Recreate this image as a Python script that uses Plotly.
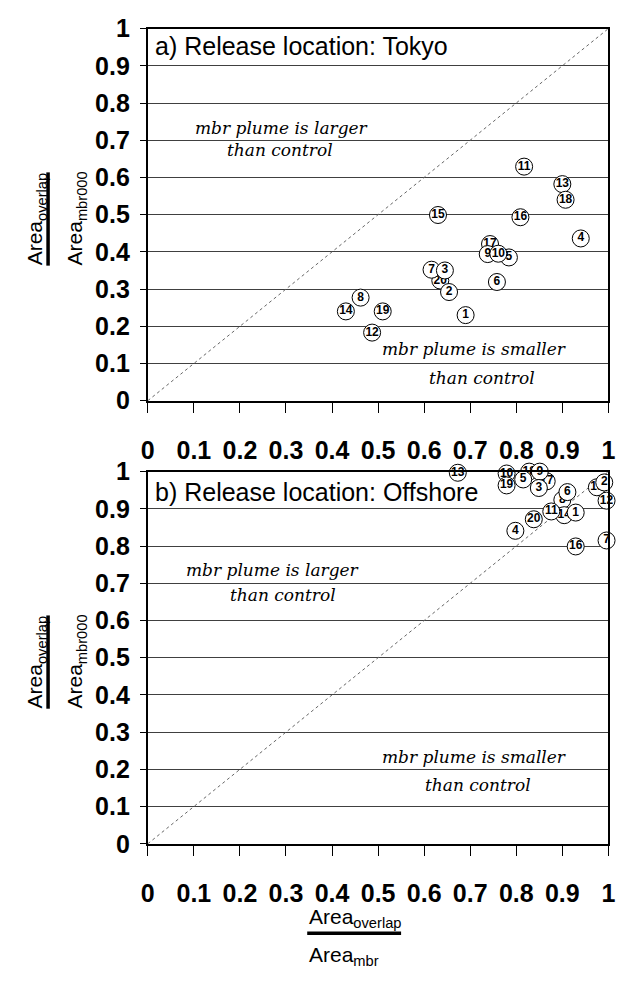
import plotly.graph_objects as go

# ---- data -------------------------------------------------------------
# Release location: Tokyo (panel a) -- listed in drawing order
tokyo_ids = [1, 4, 6, 8, 11, 12, 13, 14, 15, 16, 18, 19, 17, 9, 5, 10, 20, 7, 3, 2]
tokyo_x = [0.690, 0.940, 0.758, 0.462, 0.817, 0.487, 0.900, 0.430, 0.630, 0.809,
           0.907, 0.510, 0.743, 0.738, 0.784, 0.761, 0.635, 0.616, 0.645, 0.654]
tokyo_y = [0.230, 0.436, 0.319, 0.277, 0.629, 0.183, 0.582, 0.240, 0.499, 0.493,
           0.540, 0.240, 0.421, 0.394, 0.385, 0.395, 0.323, 0.352, 0.350, 0.292]

# Release location: Offshore (panel b) -- listed in drawing order
offshore_ids = [18, 17, 15, 8, 14, 10, 19, 5, 9, 3, 6, 11, 1, 2, 12, 20, 4, 16, 7, 13]
offshore_x = [0.828, 0.866, 0.975, 0.900, 0.904, 0.779, 0.779, 0.815, 0.851, 0.849,
              0.911, 0.876, 0.929, 0.991, 0.996, 0.838, 0.798, 0.929, 0.996, 0.673]
offshore_y = [1.000, 0.974, 0.958, 0.924, 0.883, 0.995, 0.963, 0.979, 1.000, 0.956,
              0.945, 0.893, 0.890, 0.971, 0.922, 0.872, 0.841, 0.799, 0.815, 0.997]

diag = [0, 1]
tick_vals = [0, 0.1, 0.2, 0.3, 0.4, 0.5, 0.6, 0.7, 0.8, 0.9, 1]
tick_text = ["0", "0.1", "0.2", "0.3", "0.4", "0.5", "0.6", "0.7", "0.8", "0.9", "1"]

# ---- figure geometry ----------------------------------------------------
W, H = 633, 987
SANS = "Liberation Sans, Arial, sans-serif"
SERIF = "DejaVu Serif, serif"


def px(x):
    return x / W


def py(y):
    return 1 - y / H


fig = go.Figure()

panels = [
    ("x", "y", tokyo_ids, tokyo_x, tokyo_y),
    ("x2", "y2", offshore_ids, offshore_x, offshore_y),
]
for xa, ya, ids, xs, ys in panels:
    fig.add_trace(go.Scatter(
        x=diag, y=diag, xaxis=xa, yaxis=ya, mode="lines",
        line=dict(color="#666666", width=1, dash="dot"),
        hoverinfo="skip", showlegend=False,
    ))
    # one trace per run so that a later circle hides the label underneath it
    for i, xv, yv in zip(ids, xs, ys):
        fig.add_trace(go.Scatter(
            x=[xv], y=[yv], xaxis=xa, yaxis=ya, mode="markers+text",
            text=[str(i)], textposition="middle center",
            textfont=dict(family=SANS, size=12, color="black", weight="bold"),
            marker=dict(symbol="circle", size=17, color="white",
                        line=dict(color="black", width=1)),
            cliponaxis=False, showlegend=False, name=f"run {i}",
        ))

xaxis_style = dict(
    range=[0, 1], tickvals=tick_vals, ticktext=tick_text,
    ticks="outside", ticklen=10, tickwidth=1, tickcolor="black",
    tickfont=dict(family=SANS, size=25, color="black", weight="bold"),
    ticklabelstandoff=16,
    showgrid=False, zeroline=False,
    showline=True, linecolor="black", linewidth=2, mirror=True,
)
yaxis_style = dict(
    range=[0, 1], tickvals=tick_vals, ticktext=tick_text,
    ticks="outside", ticklen=6, tickwidth=1, tickcolor="black",
    tickfont=dict(family=SANS, size=25, color="black", weight="bold"),
    ticklabelstandoff=5,
    showgrid=True, gridcolor="#404040", gridwidth=1.3, zeroline=False,
    showline=True, linecolor="black", linewidth=2, mirror=True,
)

x_dom = [px(144), px(615)]
fig.update_layout(
    width=W, height=H,
    margin=dict(l=0, r=0, t=0, b=0),
    paper_bgcolor="white", plot_bgcolor="white",
    xaxis=dict(domain=x_dom, anchor="y", **xaxis_style),
    yaxis=dict(domain=[py(398), py(15)], anchor="x", **yaxis_style),
    xaxis2=dict(domain=x_dom, anchor="y2", **xaxis_style),
    yaxis2=dict(domain=[py(854), py(471)], anchor="x2", **yaxis_style),
)

annotations = []

# panel titles
annotations.append(dict(
    text="a) Release location: Tokyo", xref="x", yref="y", x=0.012, y=0.953,
    xanchor="left", yanchor="middle", showarrow=False,
    font=dict(family=SANS, size=25, color="black"),
))
annotations.append(dict(
    text="b) Release location: Offshore", xref="x2", yref="y2", x=0.012, y=0.945,
    xanchor="left", yanchor="middle", showarrow=False,
    font=dict(family=SANS, size=25, color="black"),
))

# region notes
notes = [
    ("x", "y", 0.291, 0.734, "mbr plume is larger"),
    ("x", "y", 0.287, 0.674, "than control"),
    ("x", "y", 0.709, 0.138, "mbr plume is smaller"),
    ("x", "y", 0.726, 0.060, "than control"),
    ("x2", "y2", 0.271, 0.736, "mbr plume is larger"),
    ("x2", "y2", 0.294, 0.668, "than control"),
    ("x2", "y2", 0.709, 0.232, "mbr plume is smaller"),
    ("x2", "y2", 0.716, 0.159, "than control"),
]
for xr, yr, xv, yv, t in notes:
    annotations.append(dict(
        text=t, xref=xr, yref=yr, x=xv, y=yv, xanchor="center", yanchor="middle",
        showarrow=False,
        font=dict(family=SERIF, size=17, color="black", style="italic"),
    ))

# y-axis titles as stacked fractions (rotated)
for top in (163, 163 + 456):
    annotations.append(dict(
        text="Area<sub>overlap</sub>", xref="paper", yref="paper",
        x=px(30), y=py(top + 48), xanchor="center", yanchor="middle",
        textangle=-90, showarrow=False,
        font=dict(family=SANS, size=21, color="black"),
    ))
    annotations.append(dict(
        text="Area<sub>mbr000</sub>", xref="paper", yref="paper",
        x=px(71), y=py(top + 47), xanchor="center", yanchor="middle",
        textangle=-90, showarrow=False,
        font=dict(family=SANS, size=21, color="black"),
    ))

# x-axis title as stacked fraction
annotations.append(dict(
    text="Area<sub>overlap</sub>", xref="paper", yref="paper",
    x=px(307), y=py(930), xanchor="left", yanchor="middle", showarrow=False,
    font=dict(family=SANS, size=21, color="black"),
))
annotations.append(dict(
    text="Area<sub>mbr</sub>", xref="paper", yref="paper",
    x=px(307), y=py(970), xanchor="left", yanchor="middle", showarrow=False,
    font=dict(family=SANS, size=21, color="black"),
))

shapes = [
    dict(type="line", xref="paper", yref="paper", x0=px(307), x1=px(403),
         y0=py(946), y1=py(946), line=dict(color="black", width=3.5)),
]
for top in (163, 163 + 456):
    shapes.append(dict(type="line", xref="paper", yref="paper", x0=px(42), x1=px(42),
                       y0=py(top), y1=py(top + 96), line=dict(color="black", width=3.5)))

fig.update_layout(annotations=annotations, shapes=shapes)

fig.write_html("out.html")
